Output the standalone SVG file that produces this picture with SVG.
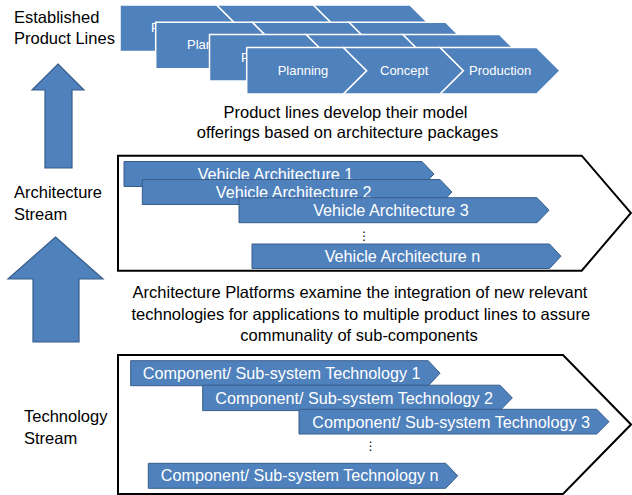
<svg xmlns="http://www.w3.org/2000/svg" width="632" height="495" viewBox="0 0 632 495">
<style>
text{font-family:"Liberation Sans",Arial,sans-serif;}
.lbl{font-size:16.5px;fill:#000;}
.par{font-size:16.5px;fill:#000;text-anchor:middle;}
.seg{fill:#4F81BD;stroke:#fff;stroke-width:1.5;}
.ptx{font-size:13px;fill:#fff;}
.chev{fill:#4F81BD;stroke:#385D8A;stroke-width:1;}
.ctx{font-size:16.2px;fill:#fff;text-anchor:middle;}
.box{fill:#fff;stroke:#000;stroke-width:2;}
.arr{fill:#4F81BD;stroke:#385D8A;stroke-width:1.2;}
.dots{font-family:"DejaVu Sans",sans-serif;font-size:12px;fill:#000;text-anchor:middle;}
</style>
<defs>
<g id="proc">
<polygon class="seg" points="0,0 96.7,0 120,23.25 96.7,46.5 0,46.5"/>
<polygon class="seg" points="96.7,0 193.4,0 216.7,23.25 193.4,46.5 96.7,46.5 120,23.25"/>
<polygon class="seg" points="193.4,0 290,0 313.3,23.25 290,46.5 193.4,46.5 216.7,23.25"/>
</g>
</defs>
<rect width="632" height="495" fill="#fff"/>

<g id="label-established">
<text class="lbl" x="14" y="22.7">Established</text>
<text class="lbl" x="14" y="44.3">Product Lines</text>
</g>
<g id="label-architecture">
<text class="lbl" x="14" y="198">Architecture</text>
<text class="lbl" x="14" y="219.5">Stream</text>
</g>
<g id="label-technology">
<text class="lbl" x="24" y="422">Technology</text>
<text class="lbl" x="24" y="443.5">Stream</text>
</g>

<g id="connectors">
<polygon class="arr" points="58,64 84,90 72,90 72,168 45,168 45,90 32,90"/>
<polygon class="arr" points="55.5,237 103,279 79,279 79,342 33,342 33,279 8,279"/>
</g>

<g id="product-line-1">
<use href="#proc" x="120" y="5"/>
<text class="ptx" x="151" y="32">Planning</text>
</g>
<g id="product-line-2">
<use href="#proc" x="155.7" y="22.3"/>
<text class="ptx" x="187" y="49.3">Planning</text>
</g>
<g id="product-line-3">
<use href="#proc" x="209.5" y="34.5"/>
<text class="ptx" x="241" y="61.5">Planning</text>
</g>
<g id="product-line-4">
<use href="#proc" x="246.7" y="47.5"/>
<text class="ptx" x="277.7" y="74.5">Planning</text>
<text class="ptx" x="380" y="74.5">Concept</text>
<text class="ptx" x="469" y="74.5">Production</text>
</g>

<g id="text-product-lines">
<text class="par" x="345.5" y="117.8">Product lines develop their model</text>
<text class="par" x="347.5" y="137.7">offerings based on architecture packages</text>
</g>

<g id="architecture-stream">
<polygon class="box" points="118,155.7 581.7,155.7 631,213 581.7,270.7 118,270.7"/>
<g id="va1">
<polygon class="chev" points="124,161.5 422,161.5 434,174 422,186.5 124,186.5"/>
<text class="ctx" x="275.5" y="180">Vehicle Architecture 1</text>
</g>
<g id="va2">
<polygon class="chev" points="142.3,179.5 440,179.5 452,192 440,204.5 142.3,204.5"/>
<text class="ctx" x="293.7" y="198">Vehicle Architecture 2</text>
</g>
<g id="va3">
<polygon class="chev" points="239,197.7 537,197.7 549,210.2 537,222.7 239,222.7"/>
<text class="ctx" x="391" y="215.8">Vehicle Architecture 3</text>
</g>
<text class="dots" x="364.3" y="240">⋮</text>
<g id="van">
<polygon class="chev" points="252,244 549.5,244 561,256.2 549.5,268.5 252,268.5"/>
<text class="ctx" x="402.5" y="261.8">Vehicle Architecture n</text>
</g>
</g>

<g id="text-platforms">
<text class="par" x="360" y="298">Architecture Platforms examine the integration of new relevant</text>
<text class="par" x="360.8" y="319.7">technologies for applications to multiple product lines to assure</text>
<text class="par" x="359" y="341.3">communality of sub-components</text>
</g>

<g id="technology-stream">
<polygon class="box" points="118,355 563,355 631,424.5 563,494 118,494"/>
<g id="ct1">
<polygon class="chev" points="130.7,360.7 428.3,360.7 440,373.2 428.3,385.7 130.7,385.7"/>
<text class="ctx" x="281.7" y="379">Component/ Sub-system Technology 1</text>
</g>
<g id="ct2">
<polygon class="chev" points="202.7,385.2 500,385.2 512.3,397.9 500,410.6 202.7,410.6"/>
<text class="ctx" x="354.2" y="403.6">Component/ Sub-system Technology 2</text>
</g>
<g id="ct3">
<polygon class="chev" points="299,409.3 596.7,409.3 609,421.7 596.7,434 299,434"/>
<text class="ctx" x="451.2" y="427.5">Component/ Sub-system Technology 3</text>
</g>
<text class="dots" x="370.7" y="450">⋮</text>
<g id="ctn">
<polygon class="chev" points="148.3,463.3 445.7,463.3 457.7,475.8 445.7,488.3 148.3,488.3"/>
<text class="ctx" x="299.7" y="481.3">Component/ Sub-system Technology n</text>
</g>
</g>
</svg>
